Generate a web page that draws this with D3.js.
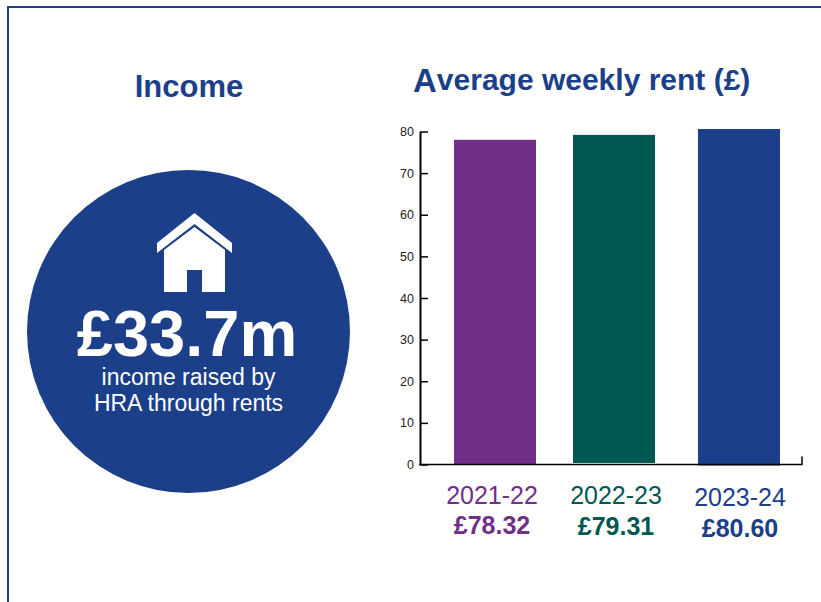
<!DOCTYPE html>
<html>
<head>
<meta charset="utf-8">
<script src="https://cdnjs.cloudflare.com/ajax/libs/d3/7.8.5/d3.min.js"></script>
<style>
html,body{margin:0;padding:0;background:#fff;overflow:hidden}
svg{display:block}
text{font-family:"Liberation Sans",Arial,sans-serif}
</style>
</head>
<body>
<svg id="c" width="821" height="602"></svg>
<script>
const years = ["2021-22","2022-23","2023-24"];
const rents = [78.32,79.31,80.60];
const rentLabels = ["£78.32","£79.31","£80.60"];
const barColors = ["#712f8a","#005850","#1c3f8a"];
const yTicks = [0,10,20,30,40,50,60,70,80];
const incomeTitle = "Income";
const incomeValue = "£33.7m";
const incomeNotes = ["income raised by","HRA through rents"];

const navy = "#1c3f8a";
const svg = d3.select("#c");

// frame
svg.append("path").attr("d","M8,602V7H821").attr("fill","none").attr("stroke",navy).attr("stroke-width",2);

// income panel
svg.append("text").attr("x",189).attr("y",97).attr("text-anchor","middle")
  .attr("font-size",31).attr("font-weight","bold").attr("fill",navy).text(incomeTitle);
svg.append("circle").attr("cx",188.5).attr("cy",331.5).attr("r",161.5).attr("fill",navy);
svg.append("path").attr("fill","#fff")
  .attr("d","M194.5,213L232,243V253L194.5,224L157,253V243Z");
svg.append("path").attr("fill","#fff")
  .attr("d","M194.5,227L225,250V292H202V270H187V292H164V250Z");
svg.append("text").attr("x",187).attr("y",356).attr("text-anchor","middle")
  .attr("font-size",65).attr("font-weight","bold").attr("fill","#fff").text(incomeValue);
svg.selectAll("text.note").data(incomeNotes).join("text").attr("class","note")
  .attr("x",188.5).attr("y",(d,i)=>385+i*26).attr("text-anchor","middle")
  .attr("font-size",23).attr("fill","#fff").text(d=>d);

// rent panel title
const t = svg.append("text").attr("x",413).attr("y",92).attr("font-weight","bold").attr("fill",navy);
t.append("tspan").attr("font-size",33).text("A");
t.append("tspan").attr("font-size",30).attr("dy",-2.5).text("verage weekly rent (£)");

// scales
const y = d3.scaleLinear().domain([0,80]).range([464.5,131.5]);
const barX = d3.scaleOrdinal().domain(years).range([454,573,698]);
const labelX = d3.scaleOrdinal().domain(years).range([492,616,740]);
const yearNudge = d3.scaleOrdinal().domain(years).range([0,0,2]);
const valueNudge = d3.scaleOrdinal().domain(years).range([0,1,3]);
const barBottomNudge = d3.scaleOrdinal().domain(years).range([0,-1.5,1]);
const barTopNudge = d3.scaleOrdinal().domain(years).range([1.3,0.5,0]);
const color = d3.scaleOrdinal().domain(years).range(barColors);
const barW = 82;

// bars
svg.selectAll("rect.bar").data(years).join("rect").attr("class","bar")
  .attr("x",d=>barX(d)).attr("width",barW)
  .attr("y",(d,i)=>y(rents[i])+barTopNudge(d))
  .attr("height",(d,i)=>y(0)+barBottomNudge(d)-y(rents[i])-barTopNudge(d))
  .attr("fill",d=>color(d));

// axes
const g = svg.append("g").attr("transform","translate(420,0)");
g.call(d3.axisLeft(y).tickValues(yTicks).tickSize(0).tickPadding(6));
g.select(".domain").attr("stroke","#000").attr("stroke-width",2);
g.selectAll(".tick text").attr("font-size",12.5).attr("fill","#222").attr("font-family",'"Liberation Sans"');
g.selectAll(".tick line").attr("x1",0).attr("x2",8).attr("stroke","#000").attr("stroke-width",1.5);
const xEnd = 802;
svg.append("path").attr("d",`M419,${y(0)}H${xEnd}V${y(0)-8}`).attr("fill","none").attr("stroke","#000").attr("stroke-width",1.5);

// labels
svg.selectAll("text.yr").data(years).join("text").attr("class","yr")
  .attr("x",d=>labelX(d)).attr("y",d=>504+yearNudge(d)).attr("text-anchor","middle")
  .attr("font-size",25).attr("fill",d=>color(d)).text(d=>d);
svg.selectAll("text.val").data(years).join("text").attr("class","val")
  .attr("x",d=>labelX(d)).attr("y",d=>534+valueNudge(d)).attr("text-anchor","middle")
  .attr("font-size",25).attr("font-weight","bold").attr("fill",d=>color(d)).text((d,i)=>rentLabels[i]);
</script>
</body>
</html>
